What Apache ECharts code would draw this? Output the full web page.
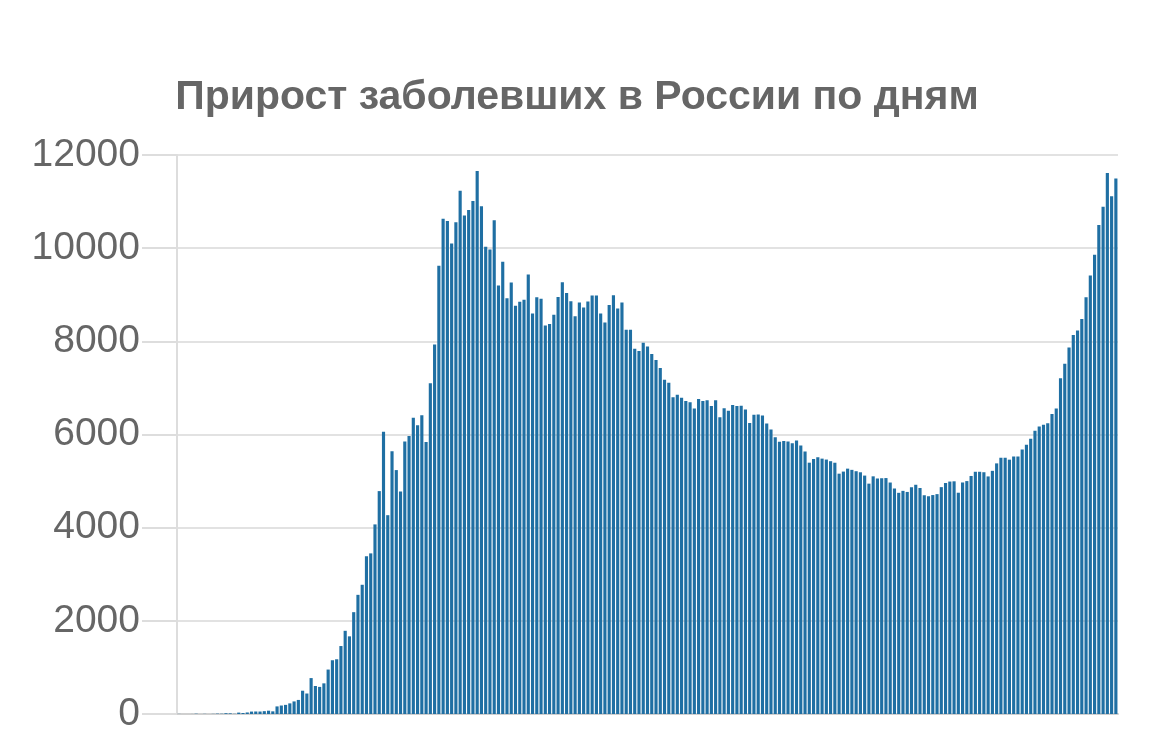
<!DOCTYPE html>
<html>
<head>
<meta charset="utf-8">
<script src="https://cdn.jsdelivr.net/npm/echarts@6/dist/echarts.min.js"></script>
<style>
html,body{margin:0;padding:0;background:#fff;}
#c{width:1154px;height:739px;}
</style>
</head>
<body>
<div id="c"></div>
<script>
const titleText = 'Прирост заболевших в России по дням';
const startDate = '2020-03-02';
const yTicks = [0, 2000, 4000, 6000, 8000, 10000, 12000];

const march = [2, 0, 0, 1, 6, 0, 3, 0, 3, 8, 6, 17, 14, 4, 30, 21, 33, 52, 54, 53, 61, 71, 57, 163, 182, 196, 228, 270, 302, 500];
const april = [440, 771, 601, 582, 658, 954, 1154, 1175, 1459, 1786, 1667, 2186, 2558, 2774, 3388, 3448, 4070, 4785, 6060, 4268, 5642, 5236, 4774, 5849, 5966, 6361, 6198, 6411, 5841, 7099];
const may = [7933, 9623, 10633, 10581, 10102, 10559, 11231, 10699, 10817, 11012, 11656, 10899, 10028, 9974, 10598, 9200, 9709, 8926, 9263, 8764, 8849, 8894, 9434, 8599, 8946, 8915, 8338, 8371, 8572, 8952, 9268];
const june = [9035, 8863, 8536, 8831, 8726, 8855, 8984, 8985, 8595, 8404, 8779, 8987, 8706, 8835, 8246, 8248, 7843, 7790, 7972, 7889, 7728, 7600, 7425, 7176, 7113, 6800, 6852, 6791, 6719, 6693];
const july = [6556, 6760, 6718, 6736, 6611, 6736, 6368, 6562, 6509, 6635, 6611, 6615, 6537, 6248, 6422, 6428, 6406, 6234, 6109, 5940, 5842, 5862, 5848, 5811, 5871, 5765, 5635, 5395, 5475, 5509, 5482];
const august = [5462, 5427, 5394, 5159, 5204, 5267, 5241, 5212, 5189, 5118, 4945, 5102, 5057, 5061, 5065, 4969, 4839, 4748, 4790, 4767, 4870, 4921, 4852, 4696, 4676, 4700, 4720, 4870, 4960, 4990, 4995];
const september = [4750, 4970, 5000, 5110, 5200, 5200, 5190, 5100, 5220, 5380, 5500, 5500, 5460, 5530, 5530, 5680, 5780, 5910, 6080, 6170, 6210, 6240, 6440, 6560, 7210, 7520, 7870, 8135, 8230, 8480];
const october = [8945, 9412, 9859, 10499, 10888, 11615, 11115, 11493];

const values = [].concat(march, april, may, june, july, august, september, october);

// category labels: consecutive days starting at startDate
const categories = [];
{
  const d = new Date(startDate + 'T00:00:00Z');
  for (let i = 0; i < values.length; i++) {
    const dd = String(d.getUTCDate()).padStart(2, '0');
    const mm = String(d.getUTCMonth() + 1).padStart(2, '0');
    categories.push(dd + '.' + mm);
    d.setUTCDate(d.getUTCDate() + 1);
  }
}

const chart = echarts.init(document.getElementById('c'), null, {renderer: 'canvas'});
chart.setOption({
  animation: false,
  backgroundColor: '#ffffff',
  title: {
    text: titleText,
    left: 'center',
    top: 72,
    textStyle: {
      fontFamily: 'Liberation Sans, Arial, sans-serif',
      fontWeight: 'bold',
      fontSize: 41,
      color: '#666666'
    }
  },
  grid: {left: 177, right: 36, top: 155, bottom: 25, containLabel: false},
  xAxis: {
    type: 'category',
    data: categories,
    boundaryGap: true,
    axisLine: {show: true, lineStyle: {color: '#cfcfcf', width: 2}},
    axisTick: {show: false},
    axisLabel: {show: false},
    splitLine: {show: false}
  },
  yAxis: {
    type: 'value',
    min: yTicks[0],
    max: yTicks[yTicks.length - 1],
    interval: 2000,
    axisLine: {show: true, lineStyle: {color: '#dddddd', width: 2}},
    axisTick: {show: true, length: 35, lineStyle: {color: '#dddddd', width: 2}},
    splitLine: {show: true, lineStyle: {color: '#e2e2e2', width: 2}},
    axisLabel: {
      margin: 37,
      fontFamily: 'Liberation Sans, Arial, sans-serif',
      fontSize: 39,
      color: '#666666',
      formatter: function (v) { return String(v); }
    }
  },
  series: [{
    type: 'bar',
    data: values,
    barCategoryGap: '26%',
    itemStyle: {color: '#1f6fa3'}
  }]
});
</script>
</body>
</html>
